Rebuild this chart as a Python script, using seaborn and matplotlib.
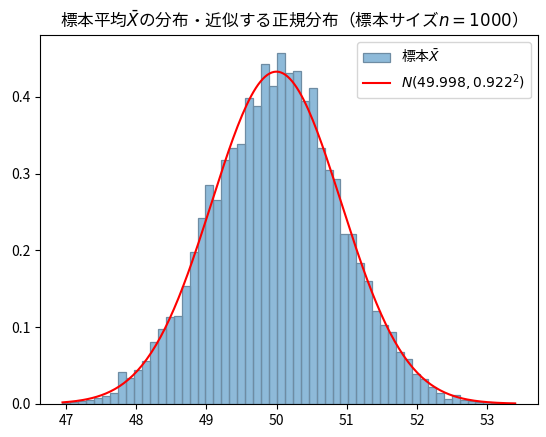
import numpy as np
import pandas as pd
import matplotlib
matplotlib.use("Agg")
import matplotlib.pyplot as plt
import matplotlib.colors as mcolors
import seaborn as sns

plt.rcParams['font.family'] = ['Noto Sans CJK JP', 'DejaVu Sans']
plt.rcParams['axes.unicode_minus'] = False

# histogram (density) of sample means, 57 bins between min and max
x_min, x_max = 46.95, 53.40
n_bins = 57
density = [
    0.001, 0.002, 0.003, 0.005, 0.007, 0.010, 0.014, 0.0416, 0.034, 0.044,
    0.056, 0.080, 0.0976, 0.1137, 0.1145, 0.153, 0.198, 0.2416, 0.285, 0.2655,
    0.3175, 0.3335, 0.3383, 0.399, 0.3878, 0.4424, 0.4138, 0.4576, 0.4311, 0.4333,
    0.3943, 0.412, 0.3335, 0.3045, 0.2923, 0.2208, 0.2208, 0.183, 0.1605, 0.121,
    0.1028, 0.0937, 0.068, 0.0586, 0.039, 0.032, 0.0225, 0.0139, 0.0067, 0.0115,
    0.005, 0.004, 0.0026, 0.0017, 0.0009, 0.0, 0.0009,
]

# fitted normal
mu, sigma = 49.998, 0.922
n_size = 1000

edges = np.linspace(x_min, x_max, n_bins + 1)
df = pd.DataFrame({'center': (edges[:-1] + edges[1:]) / 2, 'density': density})

xs = np.linspace(x_min, x_max, 200)
pdf = np.exp(-0.5 * ((xs - mu) / sigma) ** 2) / (sigma * np.sqrt(2 * np.pi))

fig, ax = plt.subplots(figsize=(5.46, 4.37), dpi=100)
fig.subplots_adjust(left=0.073, right=0.985, bottom=0.076, top=0.92)

sns.histplot(data=df, x='center', weights='density', bins=edges.tolist(), stat='count',
             color='C0', linewidth=0.9, label=r'標本$\bar{X}$', ax=ax)
face = mcolors.to_rgba('C0', 0.5)
for p in ax.patches:
    p.set_alpha(None)
    p.set_facecolor(face)
    p.set_edgecolor('#6e8ca3')

sns.lineplot(x=xs, y=pdf, color='red', linewidth=1.5,
             label=rf'$N({mu:.3f}, {sigma:.3f}^2)$', ax=ax)

ax.set_xlabel('')
ax.set_ylabel('')
ax.set_title(rf'標本平均$\bar{{X}}$の分布・近似する正規分布（標本サイズ$n={n_size}$）', fontsize=12)
handles, labels = ax.get_legend_handles_labels()
ax.legend(handles[::-1], labels[::-1], loc='upper right', fontsize=10)

fig.savefig('out.png', dpi=100)
